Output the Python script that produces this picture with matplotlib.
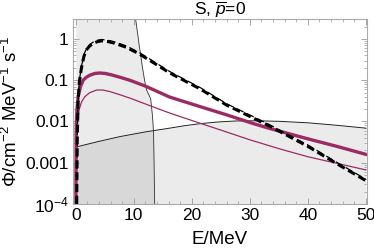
import matplotlib.pyplot as plt
import numpy as np
from matplotlib.ticker import FixedLocator, NullFormatter

plt.rcParams["font.family"] = ["Liberation Sans", "DejaVu Sans"]
plt.rcParams["mathtext.fontset"] = "custom"
plt.rcParams["mathtext.rm"] = "Liberation Sans"
plt.rcParams["mathtext.it"] = "Liberation Sans:italic"

# ---- data ----
E_thick = [0.01, 0.05, 0.1, 0.2, 0.4, 0.8, 1.26, 1.8, 2.4, 3.2, 4.1, 5.2, 6.4, 7.8, 9.3,
           12.0, 16.2, 21.4, 26.0, 30.5, 33.4, 40.0, 45.0, 50.0]
phi_thick = [1e-4, 0.004, 0.01, 0.02, 0.04, 0.07, 0.1, 0.118, 0.132, 0.145, 0.15, 0.145,
             0.132, 0.116, 0.1, 0.072, 0.039, 0.023, 0.0145, 0.009, 0.0068, 0.0038, 0.0025, 0.0016]

E_thin = [0.05, 0.15, 0.3, 0.6, 1.0, 1.55, 2.4, 3.6, 4.6, 5.9, 7.5, 9.3, 12.5, 16.2,
          21.0, 25.0, 30.0, 35.0, 40.0, 45.0, 50.0]
phi_thin = [1e-4, 0.004, 0.011, 0.02, 0.03, 0.04, 0.05, 0.058, 0.058, 0.053, 0.045, 0.037,
            0.025, 0.016, 0.0095, 0.0062, 0.0036, 0.0022, 0.0014, 0.00097, 0.00067]

E_dash = [0.15, 0.25, 0.4, 0.6, 1.0, 1.4, 1.8, 2.4, 3.0, 3.7, 4.4, 5.4, 6.4, 7.5, 8.7,
          11.0, 13.5, 16.2, 21.4, 26.0, 33.0, 40.0, 45.0, 50.0]
phi_dash = [1e-4, 0.004, 0.033, 0.09, 0.21, 0.38, 0.54, 0.68, 0.78, 0.86, 0.9, 0.87,
            0.81, 0.72, 0.63, 0.43, 0.26, 0.15, 0.062, 0.025, 0.0083, 0.0025, 0.00095, 0.00037]

E_low = [0.0, 4.0, 7.6, 12.0, 16.2, 19.0, 21.9, 24.8, 27.7, 31.0, 35.0, 40.0, 45.0, 50.0]
phi_low = [0.0024, 0.0033, 0.0043, 0.0056, 0.0069, 0.008, 0.009, 0.0098, 0.0103, 0.0104,
           0.0101, 0.0093, 0.0081, 0.0069]

phi_edge = [3.1, 0.6, 0.2, 0.092, 0.058, 0.036, 0.0145, 0.0057, 0.00088, 1e-4]
E_edge = [10.3, 11.0, 11.5, 11.9, 12.2, 12.9, 13.2, 13.4, 13.5, 13.6]

magenta = "#9b2b63"

fig = plt.figure(figsize=(3.74, 2.5), dpi=100)
ax = fig.add_axes([0.195, 0.184, 0.786, 0.740])

# shaded regions
ax.fill_betweenx(phi_edge, 0, E_edge, color="black", alpha=0.08, lw=0)
ax.plot(E_edge, phi_edge, color="#333333", lw=0.6)
ax.fill_between(E_low, 1e-5, phi_low, color="black", alpha=0.08, lw=0)
ax.plot(E_low, phi_low, color="#222222", lw=0.7)

ax.plot(E_thin, phi_thin, color=magenta, lw=0.9)
ax.plot(E_thick, phi_thick, color=magenta, lw=2.4)
ax.plot(E_dash, np.array(phi_dash) * 1.08, color="black", lw=0.9, ls=(0, (6, 3)))
ax.plot(E_dash, phi_dash, color="black", lw=2.2, ls=(0, (2.6, 1.3)))

ax.set_yscale("log")
ax.set_xlim(-0.5, 50.2)
ax.set_ylim(1e-4, 3.05)

ax.set_xticks([0, 10, 20, 30, 40, 50])
ax.xaxis.set_minor_locator(FixedLocator(np.arange(0, 51, 2)))
ax.set_yticks([1e-4, 1e-3, 1e-2, 0.1, 1])
ax.set_yticklabels([r"$10^{-4}$", "0.001", "0.01", "0.1", "1"])
minors = [m * 10.0 ** k for k in range(-4, 1) for m in range(2, 10)]
ax.yaxis.set_minor_locator(FixedLocator(minors))
ax.yaxis.set_minor_formatter(NullFormatter())

ax.tick_params(which="both", direction="in", top=True, right=True,
               color="#999999", labelsize=12.5, pad=3)
ax.tick_params(which="major", length=4, width=0.6)
ax.tick_params(which="minor", length=2, width=0.5)
for s in ax.spines.values():
    s.set_color("#aaaaaa")
    s.set_linewidth(0.8)

ax.set_xlabel("E/MeV", fontsize=13.5, labelpad=6)
ax.set_ylabel("Φ/cm$^{-2}$ MeV$^{-1}$ s$^{-1}$", fontsize=13.5, labelpad=3)
ax.set_title(r"S, $\overline{p}$=0", fontsize=12.5, pad=2)

fig.savefig("out.png", dpi=100)
